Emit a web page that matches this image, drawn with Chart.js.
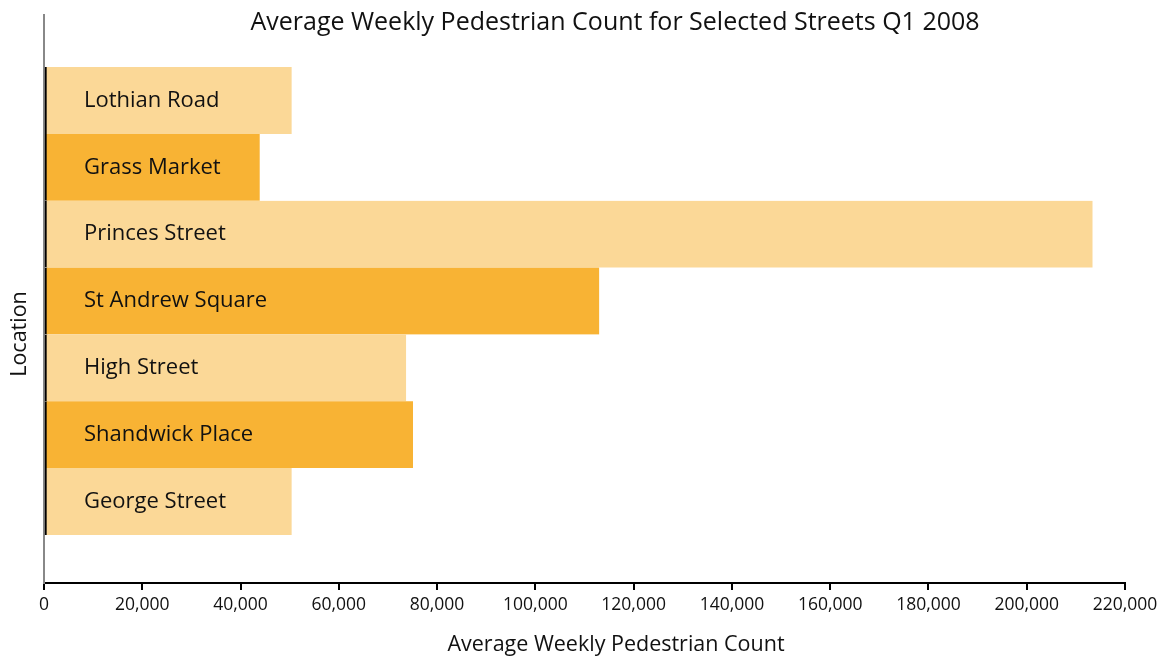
<!DOCTYPE html>
<html>
<head>
<meta charset="utf-8">
<script src="https://cdn.jsdelivr.net/npm/chart.js@4"></script>
<style>
html,body{margin:0;padding:0;background:#fff;}
#wrap{width:1172px;height:658px;}
</style>
</head>
<body>
<div id="wrap"><canvas id="c" width="1172" height="658"></canvas></div>
<script>
const locations = ['Lothian Road','Grass Market','Princes Street','St Andrew Square','High Street','Shandwick Place','George Street'];
const counts = [50400, 43900, 213400, 113000, 73700, 75100, 50400];
const xTicks = [0,20000,40000,60000,80000,100000,120000,140000,160000,180000,200000,220000];
const titleText = 'Average Weekly Pedestrian Count for Selected Streets Q1 2008';
const xTitle = 'Average Weekly Pedestrian Count';
const yTitle = 'Location';

const LIGHT = '#FBD897', DARK = '#F8B334';
const FONT = "'Open Sans', 'Noto Sans', sans-serif";

const points = counts.map((v,i)=>({x:v, y:i}));
const colors = counts.map((v,i)=> i%2===0 ? LIGHT : DARK);

const textPlugin = {
  id:'texts',
  afterDatasetsDraw(chart){
    const ctx = chart.ctx;
    const meta = chart.getDatasetMeta(0);
    const area = chart.chartArea;
    ctx.save();
    ctx.fillStyle = '#111';
    ctx.font = "22px " + FONT;
    ctx.textAlign = 'left';
    ctx.textBaseline = 'middle';
    meta.data.forEach((bar,i)=>{
      ctx.fillText(locations[i], area.left + 40, bar.y);
    });
    ctx.textAlign = 'center';
    ctx.font = "500 25px " + FONT;
    ctx.fillText(titleText, 615, 23);
    ctx.font = "21.5px " + FONT;
    ctx.fillText(xTitle, 616, 645);
    ctx.translate(20, 334);
    ctx.rotate(-Math.PI/2);
    ctx.fillText(yTitle, 0, 0);
    ctx.restore();
  }
};

new Chart(document.getElementById('c'), {
  type:'bar',
  data:{
    datasets:[{
      data: points,
      backgroundColor: colors,
      borderColor: '#000',
      borderWidth: {left:2, right:0, top:0, bottom:0},
      borderSkipped: false,
      categoryPercentage: 1,
      barPercentage: 1
    }]
  },
  options:{
    indexAxis:'y',
    responsive:false,
    animation:false,
    layout:{padding:{left:44, right:47, top:15, bottom:0}},
    plugins:{legend:{display:false}, tooltip:{enabled:false}, title:{display:false}},
    scales:{
      x:{
        type:'linear', min:0, max:220000,
        afterBuildTicks(scale){ scale.ticks = xTicks.map(v=>({value:v})); },
        afterFit(scale){ scale.height = 75; },
        grid:{drawOnChartArea:false, drawTicks:true, tickLength:7, color:'#000', lineWidth:2},
        border:{display:true, color:'#000', width:2},
        ticks:{color:'#111', font:{family:FONT, size:17.5}, padding:5, maxRotation:0,
          callback:(v)=>v.toLocaleString('en-US')}
      },
      y:{
        type:'linear', reverse:true, bounds:'data', offset:false, min:-1.28, max:7.22,
        afterBuildTicks(scale){ scale.ticks = locations.map((_,i)=>({value:i})); },
        afterFit(scale){ scale.width = 0; },
        grid:{display:false, drawTicks:false, offset:false},
        border:{display:true, color:'#888', width:2},
        ticks:{display:false}
      }
    }
  },
  plugins:[textPlugin]
});
</script>
</body>
</html>
